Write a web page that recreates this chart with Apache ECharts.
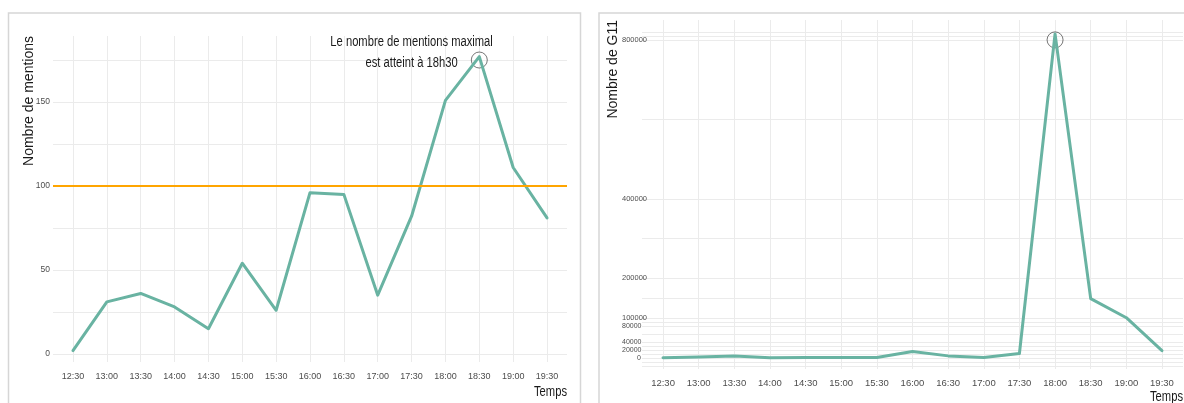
<!DOCTYPE html>
<html><head><meta charset="utf-8">
<script src="https://cdn.jsdelivr.net/npm/echarts@6/dist/echarts.min.js"></script>
<style>html,body{margin:0;padding:0;background:#fff;overflow:hidden}#c{width:1184px;height:403px}</style>
</head><body><div id="c"></div>
<script>
// ---- data ----
const categories = ['12:30','13:00','13:30','14:00','14:30','15:00','15:30','16:00','16:30','17:00','17:30','18:00','18:30','19:00','19:30'];
const mentions = [2, 31, 36, 28, 15, 54, 26, 96, 95, 35, 82, 151, 177, 111, 81];
const g11 = [500, 2000, 4500, 500, 800, 800, 800, 16000, 5000, 1000, 11000, 815000, 149000, 101000, 18000];
const mentionThreshold = 100;
const leftYLabels = [0, 50, 100, 150];
const leftYGrid = [0, 25, 50, 75, 100, 125, 150, 175];
const rightYLabels = [0, 20000, 40000, 80000, 100000, 200000, 400000, 800000];
const rightYGrid = [-20000, -10000, 0, 10000, 20000, 30000, 40000, 60000, 80000, 90000, 100000, 150000, 200000, 300000, 400000, 600000, 800000, 810000, 820000];
const annotationLines = ['Le nombre de mentions maximal', 'est atteint à 18h30'];
const annotationAt = [10, 179.5];
const leftCircleAt = [12, 175];
const rightCircleAt = [11, 800000];
const leftYTitle = 'Nombre de mentions';
const rightYTitle = 'Nombre de G11';
const xTitle = 'Temps';

// ---- styling ----
const SANS = "'Liberation Sans',Arial,sans-serif";
const TEAL = '#69b3a2';
const GRID = '#ebebeb';
const TICKC = '#4d4d4d';
const NARROW_SCALE = 0.8;
const idx = categories.map((_, i) => i);
const pad = 0.59;

function xAxisCfg(gridIndex, fs, margin) {
  return {
    type: 'value', gridIndex, min: -pad, max: categories.length - 1 + pad,
    axisLine: {show: false},
    axisTick: {show: false, customValues: idx},
    splitLine: {show: true, lineStyle: {color: GRID, width: 1}},
    axisLabel: {customValues: idx, formatter: v => categories[Math.round(v)] ?? '', color: TICKC, fontFamily: SANS, fontSize: fs, margin}
  };
}

const chart = echarts.init(document.getElementById('c'), null, {renderer: 'canvas'});
chart.setOption({
  animation: false,
  backgroundColor: '#fff',
  grid: [
    {left: 53, right: 617, top: 36, bottom: 41},
    {left: 642, right: 1, top: 20, bottom: 34}
  ],
  xAxis: [xAxisCfg(0, 9, 10), xAxisCfg(1, 9.5, 9)],
  yAxis: [
    {
      type: 'value', gridIndex: 0, min: -4.8, max: 189.3,
      axisLine: {show: false},
      axisTick: {show: false, customValues: leftYGrid},
      splitLine: {show: true, lineStyle: {color: GRID, width: 1}},
      axisLabel: {customValues: leftYLabels, color: TICKC, fontFamily: SANS, fontSize: 8.5, margin: 3}
    },
    {
      type: 'value', gridIndex: 1, min: -28000, max: 850000,
      axisLine: {show: false},
      axisTick: {show: false, customValues: rightYGrid},
      splitLine: {show: true, lineStyle: {color: GRID, width: 1}},
      axisLabel: {
        customValues: rightYLabels, align: 'left', margin: 20,
        formatter: v => (v === 0 ? '{z|0}' : (String(v).length >= 6 ? '{a|' + v + '}' : '{b|' + v + '}')),
        rich: {
          a: {fontSize: 7.5, color: TICKC, fontFamily: SANS},
          b: {fontSize: 7, color: TICKC, fontFamily: SANS},
          z: {fontSize: 7, color: TICKC, fontFamily: SANS, padding: [0, 0, 0, 15]}
        }
      }
    }
  ],
  series: [
    {
      type: 'line', xAxisIndex: 0, yAxisIndex: 0,
      data: mentions.map((v, i) => [i, v]),
      symbol: 'none', lineStyle: {color: TEAL, width: 3, join: 'round', cap: 'round'},
      markLine: {
        silent: true, symbol: 'none', label: {show: false},
        lineStyle: {color: '#FFA500', width: 2, type: 'solid'},
        data: [{yAxis: mentionThreshold}]
      }
    },
    {
      type: 'scatter', xAxisIndex: 0, yAxisIndex: 0, data: [leftCircleAt], symbolSize: 16, silent: true,
      itemStyle: {color: 'rgba(0,0,0,0)', borderColor: '#555', borderWidth: 1}
    },
    {
      type: 'line', xAxisIndex: 1, yAxisIndex: 1,
      data: g11.map((v, i) => [i, v]),
      symbol: 'none', lineStyle: {color: TEAL, width: 3, join: 'round', cap: 'round'}
    },
    {
      type: 'scatter', xAxisIndex: 1, yAxisIndex: 1, data: [rightCircleAt], symbolSize: 16, silent: true,
      itemStyle: {color: 'rgba(0,0,0,0)', borderColor: '#555', borderWidth: 1}
    }
  ]
});

// annotation placed through the axes' own scale
const annPx = chart.convertToPixel({xAxisIndex: 0, yAxisIndex: 0}, annotationAt);
chart.setOption({
  graphic: [
    {type: 'rect', shape: {x: 8.5, y: 13, width: 572, height: 420}, style: {fill: 'none', stroke: '#d6d6d6', lineWidth: 1.5}, silent: true, z: 100},
    {type: 'rect', shape: {x: 599, y: 13, width: 620, height: 420}, style: {fill: 'none', stroke: '#d6d6d6', lineWidth: 1.5}, silent: true, z: 100},
    {type: 'text', x: annPx[0], y: annPx[1], scaleX: NARROW_SCALE, z: 50,
      style: {text: annotationLines.join('\n'), font: '14px ' + SANS, lineHeight: 21, fill: '#1a1a1a', align: 'center', verticalAlign: 'middle'}},
    {type: 'text', x: 29, y: 36, rotation: Math.PI / 2, style: {text: leftYTitle, font: '14px ' + SANS, fill: '#1a1a1a', align: 'right', verticalAlign: 'middle'}},
    {type: 'text', x: 613, y: 20, rotation: Math.PI / 2, style: {text: rightYTitle, font: '14px ' + SANS, fill: '#1a1a1a', align: 'right', verticalAlign: 'middle'}},
    {type: 'text', x: 567, y: 392, scaleX: NARROW_SCALE, style: {text: xTitle, font: '14px ' + SANS, fill: '#1a1a1a', align: 'right', verticalAlign: 'middle'}},
    {type: 'text', x: 1183, y: 397, scaleX: NARROW_SCALE, style: {text: xTitle, font: '14px ' + SANS, fill: '#1a1a1a', align: 'right', verticalAlign: 'middle'}}
  ]
});
</script>
</body></html>
